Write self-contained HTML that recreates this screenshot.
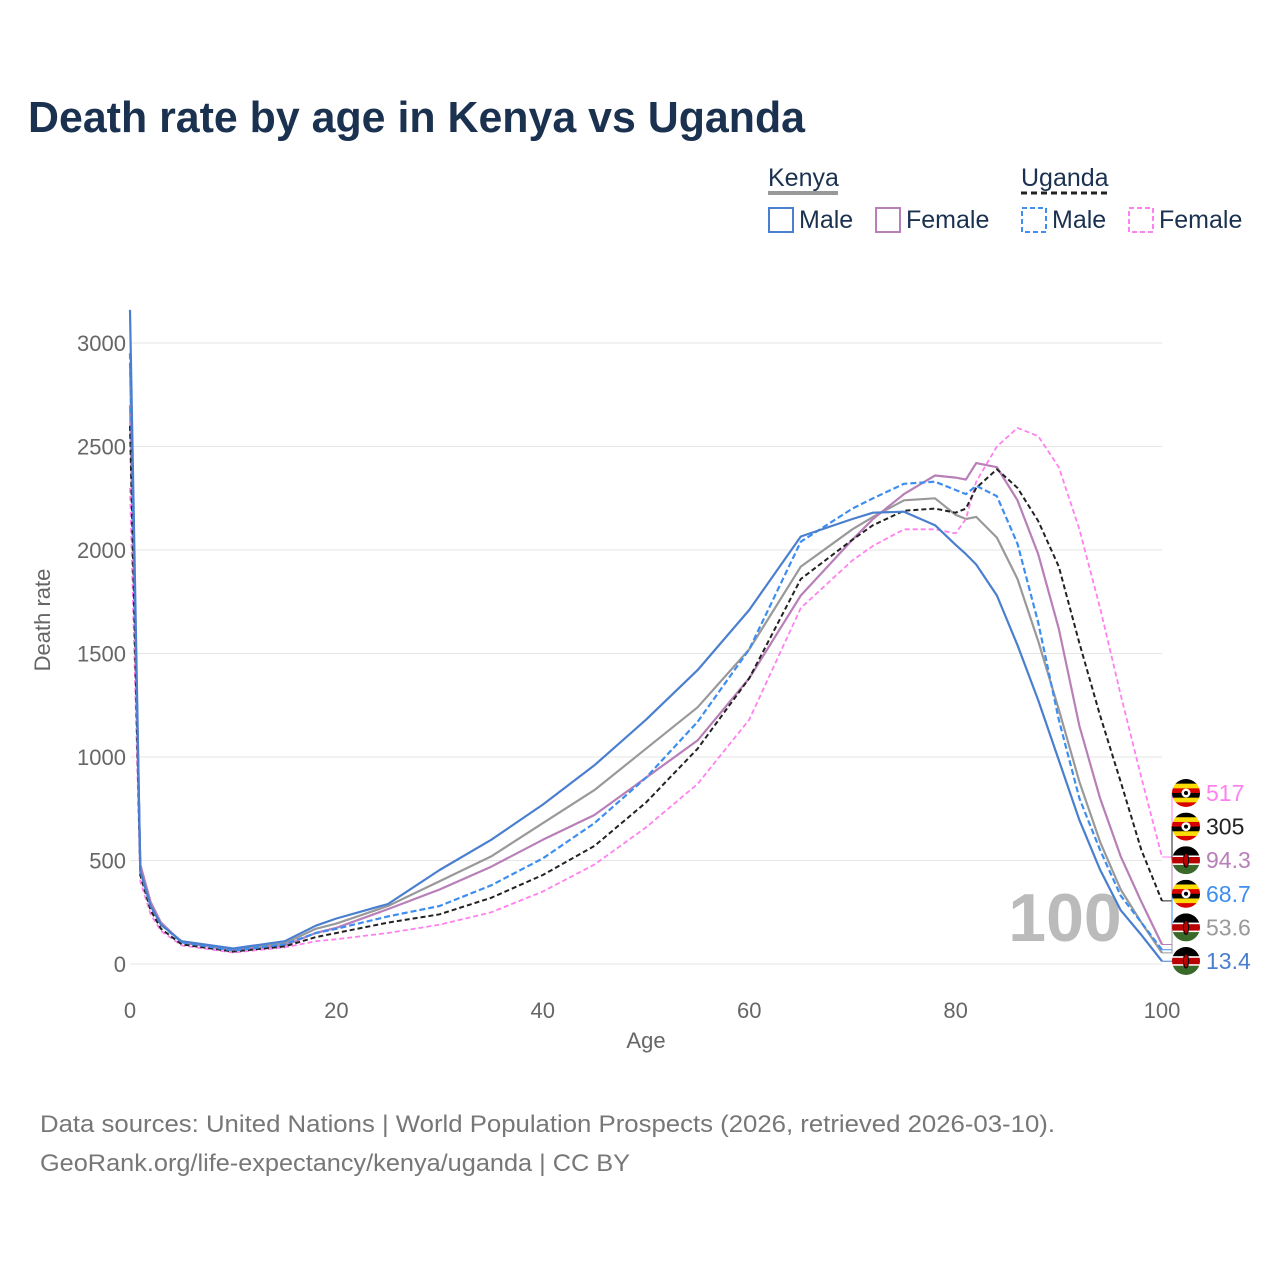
<!DOCTYPE html>
<html><head><meta charset="utf-8">
<style>
body{margin:0;background:#fff;font-family:"Liberation Sans",sans-serif;}
#wrap{position:relative;width:1280px;height:1280px;overflow:hidden;}
</style></head>
<body>
<div id="wrap">
<svg id="chart" width="1280" height="1280" xmlns="http://www.w3.org/2000/svg">
<defs>
<clipPath id="fc"><circle cx="0" cy="0" r="14"/></clipPath>
</defs>
<text x="28" y="132" font-size="44" font-weight="bold" fill="#1b3150" textLength="777" lengthAdjust="spacingAndGlyphs">Death rate by age in Kenya vs Uganda</text>
<g id="legend" font-size="25" fill="#1b3150">
<text x="768" y="186">Kenya</text>
<line x1="768" y1="193" x2="838" y2="193" stroke="#999" stroke-width="4"/>
<text x="1021" y="186">Uganda</text>
<line x1="1021" y1="193" x2="1107" y2="193" stroke="#222" stroke-width="3" stroke-dasharray="6,4"/>
<g><rect x="769" y="208" width="24" height="24" fill="none" stroke="#4a7fcf" stroke-width="2"/><text x="799" y="228">Male</text></g>
<g><rect x="876" y="208" width="24" height="24" fill="none" stroke="#b87fb8" stroke-width="2"/><text x="906" y="228">Female</text></g>
<g><rect x="1022" y="208" width="24" height="24" fill="none" stroke="#3d8ef0" stroke-width="2" stroke-dasharray="5,3"/><text x="1052" y="228">Male</text></g>
<g><rect x="1129" y="208" width="24" height="24" fill="none" stroke="#ff80ee" stroke-width="2" stroke-dasharray="5,3"/><text x="1159" y="228">Female</text></g>
</g>
<g id="grid"></g>
<text x="1065" y="941" font-size="68" font-weight="bold" fill="#bbb" text-anchor="middle">100</text>
<g id="series"></g>
<g id="labels"></g>
<text x="646" y="1048" font-size="22" fill="#666" text-anchor="middle">Age</text>
<text transform="translate(50,620) rotate(-90)" font-size="22" fill="#666" text-anchor="middle">Death rate</text>
<text x="40" y="1132" font-size="24" fill="#777" textLength="1015" lengthAdjust="spacingAndGlyphs">Data sources: United Nations | World Population Prospects (2026, retrieved 2026-03-10).</text>
<text x="40" y="1171" font-size="24" fill="#777" textLength="590" lengthAdjust="spacingAndGlyphs">GeoRank.org/life-expectancy/kenya/uganda | CC BY</text>
</svg>
</div>
<script>
const ages=[0,1,2,3,5,10,15,18,20,25,30,35,40,45,50,55,60,65,70,72,75,78,80,81,82,84,86,88,90,92,94,96,98,100];
const kenyaMale=[3160,450,280,190,110,75,110,185,220,290,454,600,770,960,1180,1420,1710,2065,2150,2180,2185,2120,2025,1980,1930,1780,1540,1275,985,695,455,260,140,13.4];
const kenyaFemale=[2700,480,300,200,105,65,90,150,175,265,360,470,600,720,900,1080,1380,1780,2050,2150,2270,2360,2350,2340,2420,2400,2240,1980,1620,1150,800,520,300,94.3];
const kenyaTotal=[2900,470,290,195,107,70,100,170,195,280,400,520,680,840,1040,1240,1520,1920,2100,2160,2240,2250,2170,2150,2160,2060,1860,1560,1230,880,590,360,200,53.6];
const ugandaMale=[2950,450,280,190,105,65,95,150,170,230,280,380,510,680,900,1170,1520,2040,2200,2250,2320,2330,2290,2270,2310,2260,2030,1650,1180,800,550,330,200,68.7];
const ugandaTotal=[2600,430,260,170,95,60,85,130,150,200,240,320,430,570,780,1040,1380,1860,2050,2120,2190,2200,2180,2200,2300,2390,2300,2140,1920,1550,1200,880,550,305];
const ugandaFemale=[2300,400,240,160,90,55,80,110,120,150,190,250,350,480,660,870,1180,1720,1950,2020,2100,2100,2080,2150,2330,2500,2590,2550,2400,2100,1720,1300,900,517];
const xTicks=[0,20,40,60,80,100];
const yTicks=[0,500,1000,1500,2000,2500,3000];
const endLabels=["517","305","94.3","68.7","53.6","13.4"];

const NS="http://www.w3.org/2000/svg";
const X=a=>130+a*10.32;
const Y=v=>964-v*0.207;
function mk(tag,attrs,parent){const e=document.createElementNS(NS,tag);for(const k in attrs)e.setAttribute(k,attrs[k]);parent.appendChild(e);return e;}
const grid=document.getElementById('grid');
yTicks.forEach(t=>{
  const l=mk('line',{x1:130,x2:1162,y1:Y(t),y2:Y(t),stroke:'#e6e6e6','stroke-width':1},grid);
  
  
  const tx=mk('text',{x:126,y:Y(t)+8,'font-size':22,fill:'#666','text-anchor':'end'},grid);
  tx.textContent=t;
  
  
});
xTicks.forEach(t=>{
  const tx=mk('text',{x:X(t),y:1018,'font-size':22,fill:'#666','text-anchor':'middle'},grid);
  tx.textContent=t;
  
  
});
const ser=document.getElementById('series');
const defs=[
 [kenyaTotal,'#999','',2.2,'kenya-total-line'],
 [kenyaFemale,'#b87fb8','',2.2,'kenya-female-line'],
 [ugandaFemale,'#ff80ee','5,3',1.8,'uganda-female-line'],
 [ugandaTotal,'#222','5,3',2,'uganda-total-line'],
 [ugandaMale,'#3d8ef0','6,3',2.2,'uganda-male-line'],
 [kenyaMale,'#4a7fcf','',2.2,'kenya-male-line']
];
defs.forEach(([vals,c,d,w,name])=>{
  const p=mk('path',{d:vals.map((v,i)=>(i?'L':'M')+X(ages[i]).toFixed(1)+','+Y(v).toFixed(1)).join(''),fill:'none',stroke:c,'stroke-width':w,'stroke-dasharray':d,'stroke-linejoin':'round'},ser);
  
  
});
const lab=document.getElementById('labels');
const labs=[['uganda',ugandaFemale,'#ff80ee'],['uganda',ugandaTotal,'#222'],['kenya',kenyaFemale,'#b87fb8'],['uganda',ugandaMale,'#3d8ef0'],['kenya',kenyaTotal,'#999'],['kenya',kenyaMale,'#4a7fcf']];
labs.forEach(([c,vals,col],i)=>{
  const ly=793+i*33.6;
  const vy=Y(vals[vals.length-1]);
  const con=mk('path',{d:`M1162,${vy}H1172V${ly}H1178`,fill:'none',stroke:col,'stroke-width':1},lab);
  
  
  const g=mk('g',{transform:`translate(1186,${ly})`},lab);
  
  
  const cg=mk('g',{'clip-path':'url(#fc)'},g);
  if(c==='uganda'){
    const cols=['#000','#fcdc04','#d90000','#000','#fcdc04','#d90000'];
    cols.forEach((cc,k)=>mk('rect',{x:-14,y:-14+k*28/6,width:28,height:28/6+0.5,fill:cc},cg));
    mk('circle',{cx:0,cy:0,r:4.5,fill:'#fff'},cg);
    mk('circle',{cx:0,cy:0,r:2,fill:'#000'},cg);
  } else {
    mk('rect',{x:-14,y:-14,width:28,height:9.3,fill:'#000'},cg);
    mk('rect',{x:-14,y:-4.7,width:28,height:9.4,fill:'#fff'},cg);
    mk('rect',{x:-14,y:-3.2,width:28,height:6.4,fill:'#b00'},cg);
    mk('rect',{x:-14,y:4.7,width:28,height:9.3,fill:'#3a6a2a'},cg);
    mk('ellipse',{cx:0,cy:0,rx:2.6,ry:7,fill:'#b00',stroke:'#000','stroke-width':1},cg);
  }
  const t=mk('text',{x:1206,y:ly+8,'font-size':23,fill:col},lab);
  t.textContent=endLabels[i];
  
  
});
</script>
</body></html>
